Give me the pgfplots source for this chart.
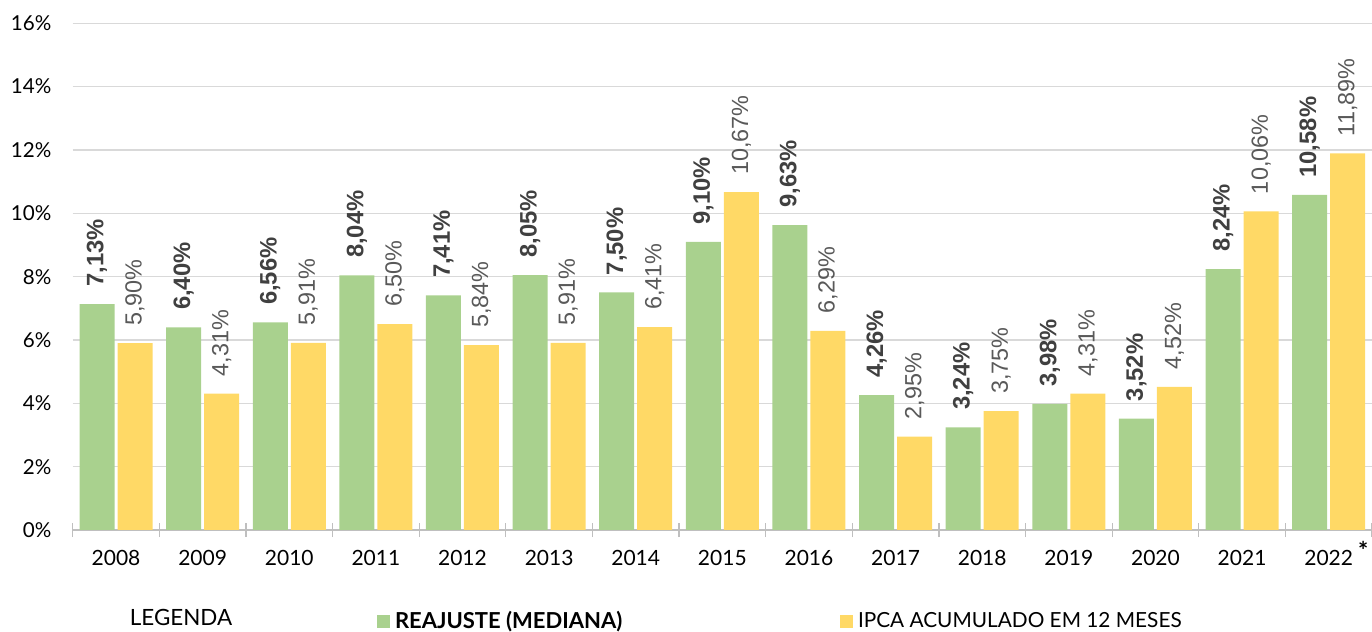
\documentclass[border=0pt]{standalone}
\usepackage{pgfplots}
\pgfplotsset{compat=1.18}
\usepackage{pgfplotstable}
\usepackage{fontspec}
\setmainfont{Lato}
\newfontfamily\labelfont{Liberation Sans}
\definecolor{barGreen}{HTML}{A9D18E}
\definecolor{barYellow}{HTML}{FFD966}
\definecolor{gridGray}{HTML}{D9D9D9}
\definecolor{axisGray}{HTML}{BFBFBF}
\definecolor{lblGreen}{HTML}{404040}
\definecolor{lblYellow}{HTML}{595959}
\pgfplotstableread{
x reajuste ipca
0 7.13 5.90
1 6.40 4.31
2 6.56 5.91
3 8.04 6.50
4 7.41 5.84
5 8.05 5.91
6 7.50 6.41
7 9.10 10.67
8 9.63 6.29
9 4.26 2.95
10 3.24 3.75
11 3.98 4.31
12 3.52 4.52
13 8.24 10.06
14 10.58 11.89
}\datatable
\begin{document}
\begin{tikzpicture}
\begin{axis}[
  at={(0,0)}, anchor=south west,
  scale only axis,
  width=649.65pt, height=253.35pt,
  xmin=-0.5, xmax=14.5, ymin=0, ymax=16,
  ybar, bar width=17.5pt,
  axis x line*=bottom, axis y line*=left,
  y axis line style={draw=none},
  x axis line style={draw=axisGray, line width=0.75pt},
  xtick=data,
  xticklabels={2008,2009,2010,2011,2012,2013,2014,2015,2016,2017,2018,2019,2020,2021,{2022\rlap{\hspace{2.5pt}\smash{\raisebox{3pt}{\fontsize{12}{12}\selectfont\textbf{*}}}}}},
  minor xtick={-0.5,0.5,...,14.5},
  major tick length=0pt,
  minor tick length=7pt,
  tick align=center,
  minor tick style={draw=axisGray, line width=0.6pt},
  ytick={0,2,...,16},
  yticklabels={0\%,2\%,4\%,6\%,8\%,10\%,12\%,14\%,16\%},
  ymajorgrids,
  grid style={draw=gridGray, line width=0.6pt},
  xticklabel style={font=\fontsize{10.5}{12}\selectfont, inner sep=0pt, anchor=north, yshift=-10pt},
  yticklabel style={font=\fontsize{10.3}{12}\selectfont, inner sep=0pt, anchor=east, xshift=-10.5pt},
  /pgf/number format/assume math mode=true,
  nodes near coords,
  every node near coord/.append style={rotate=90, anchor=west, inner xsep=8.5pt, inner ysep=0pt},
  legend image code/.code={\path[#1, draw=none] (0pt,-3.25pt) rectangle (6.5pt,3.25pt);},
  legend columns=2,
  legend style={draw=none, fill=none, inner sep=0pt, outer sep=0pt,
    at={(0.2342,-0.1806)}, anchor=west, column sep=2.5pt,
    font=\fontsize{10.4}{12}\selectfont,
    nodes={inner sep=0pt}},
  legend cell align=left,
  clip=false,
]
\addplot[fill=barGreen, draw=none, bar shift=-9.5pt,
  nodes near coords={\labelfont\bfseries\pgfmathprintnumber[fixed,fixed zerofill,precision=2,use comma]{\pgfplotspointmeta}\%},
  every node near coord/.append style={font=\fontsize{11.9}{12}\selectfont, text=lblGreen}]
  table[x=x, y=reajuste] {\datatable};
\addlegendentry{\makebox[220pt][l]{\fontsize{11}{12}\selectfont\textbf{REAJUSTE (MEDIANA)}}}
\addplot[fill=barYellow, draw=none, bar shift=9.5pt,
  nodes near coords={\labelfont\pgfmathprintnumber[fixed,fixed zerofill,precision=2,use comma]{\pgfplotspointmeta}\%},
  every node near coord/.append style={font=\fontsize{11.7}{12}\selectfont, text=lblYellow}]
  table[x=x, y=ipca] {\datatable};
\addlegendentry{IPCA ACUMULADO EM 12 MESES}
\node[font=\fontsize{11.2}{12}\selectfont, anchor=center] at (rel axis cs:0.0834,-0.1717) {LEGENDA};
\end{axis}
\pgfresetboundingbox
\path[use as bounding box] (-36.35pt,-51pt) rectangle (649.65pt,265pt);
\end{tikzpicture}
\end{document}
